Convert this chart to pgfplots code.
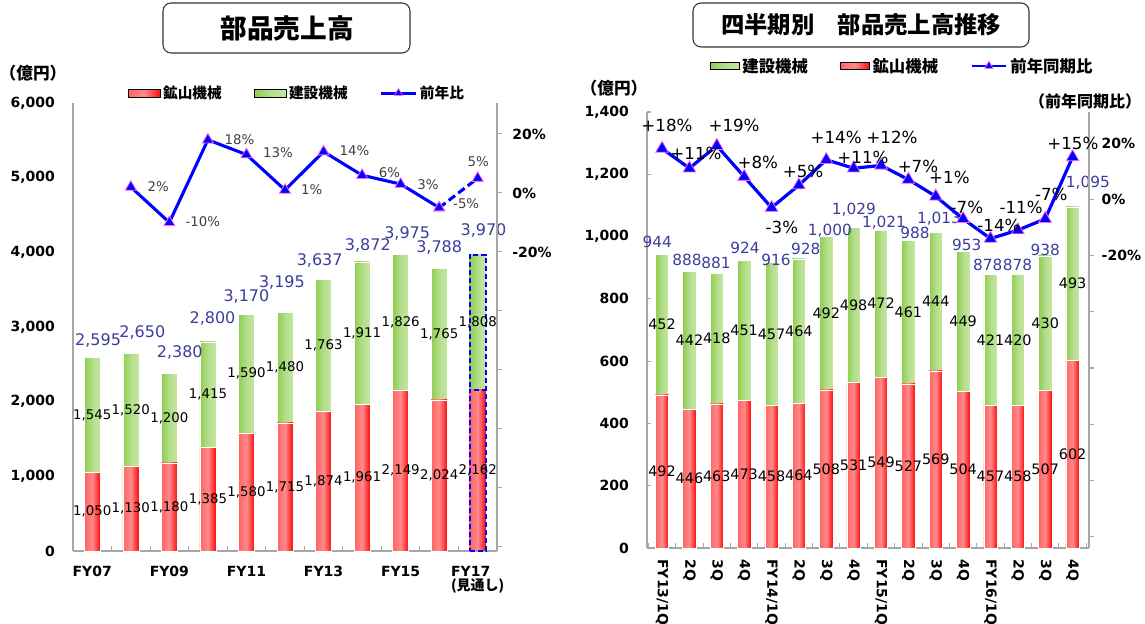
\documentclass[border=0pt]{standalone}
\usepackage{fontspec}
\setmainfont{DejaVu Sans}
\newfontfamily\jp{Noto Sans CJK JP}
\usepackage{pgfplots}
\usepackage{pgfplotstable}
\pgfplotsset{compat=1.18}
\newcommand\fs[1]{\fontsize{#1}{#1}\selectfont}
\definecolor{axgray}{HTML}{A6A6A6}
\definecolor{lineblue}{HTML}{0000FF}
\definecolor{mkpink}{HTML}{FF66FF}
\definecolor{totblue}{HTML}{3D3D9E}
\definecolor{labgray}{HTML}{404040}
\definecolor{gL}{HTML}{8FCD50}
\definecolor{gM}{HTML}{B3DE8A}
\definecolor{gR}{HTML}{C4E6A3}
\definecolor{rL}{HTML}{FF6464}
\definecolor{rM}{HTML}{FF8A8A}
\definecolor{rR}{HTML}{FF0A0A}

\pgfplotsset{
  /pgf/number format/assume math mode=true,
  /pgf/number format/1000 sep={,},
  barG/.style={ybar, bar shift=0pt, left color=gL, right color=gR, middle color=gM, draw=white, line width=0.4pt, forget plot},
  barR/.style={ybar, bar shift=0pt, left color=rL, right color=rR, middle color=rM, draw=white, line width=0.4pt, forget plot},
  lab/.style={draw=none, mark=none, forget plot, nodes near coords, point meta=explicit, nodes near coords style={anchor=center, inner sep=0pt}},
}

% ---------- annual data ----------
\pgfplotstableread{
x mine cons total
0 1050 1545 2595
1 1130 1520 2650
2 1180 1200 2380
3 1385 1415 2800
4 1580 1590 3170
5 1715 1480 3195
6 1874 1763 3637
7 1961 1911 3872
8 2149 1826 3975
9 2024 1765 3788
}\annual
\pgfplotstableread{
x mine cons total
10 2162 1808 3970
}\annualfc
\pgfplotstableread{
lx ly total
0.15 2823 2595
1.3 2931 2650
2.27 2661 2380
3.12 3108 2800
4.0 3411 3170
4.92 3597 3195
5.9 3892 3637
7.15 4086 3872
8.17 4256 3975
9.0 4069 3788
10.15 4292 3970
}\annualtot
\pgfplotstableread{
x pct lx ly
1 2 1.71 2.0
2 -10 2.87 -9.8
3 18 3.82 18.0
4 13 4.82 13.6
5 1 5.69 1.0
6 14 6.80 14.2
7 6 7.71 6.8
8 3 8.71 2.7
9 -5 9.70 -3.7
10 5 10.01 10.5
}\annualyoy

% ---------- quarterly data ----------
\pgfplotstableread{
x mine cons total yoy tx ty lx ly
0 492 452 944 18 -0.18 983 0.18 26.4
1 446 442 888 11 0.91 925 1.24 16.1
2 463 418 881 19 1.97 915 2.63 26.4
3 473 451 924 8 3.03 963 3.50 12.9
4 458 457 916 -3 4.16 925 4.38 -10.2
5 464 464 928 5 5.25 960 5.15 9.7
6 508 492 1000 14 6.13 1018 6.36 22.1
7 531 498 1029 11 7.01 1085 7.34 15.0
8 549 472 1021 12 8.11 1044 8.40 22.1
9 527 461 988 7 9.24 1012 9.35 11.8
10 569 444 1013 1 10.12 1057 10.50 7.8
11 504 449 953 -7 11.13 973 11.14 -2.8
12 457 421 878 -14 11.90 909 12.31 -9.5
13 458 420 878 -11 12.99 909 13.12 -2.8
14 507 430 938 -7 14.00 957 14.22 1.6
15 602 493 1095 15 15.56 1172 15.01 20.0
}\quarterly

\begin{document}
\begin{tikzpicture}[x=0.75pt,y=0.75pt]
\useasboundingbox (0,0) rectangle (1145,624);

%================ LEFT CHART: bars =================
\begin{axis}[
  at={(54.75pt,54.75pt)}, anchor=south west, scale only axis,
  width=318pt, height=336pt,
  xmin=-0.5, xmax=10.5, ymin=0, ymax=6000, clip=false,
  axis lines*=left, axis line style={-, draw=axgray, line width=0.9pt},
  xtick={0,2,...,10},
  xticklabels={FY07,FY09,FY11,FY13,FY15,{FY17\\\jp\bfseries(見通し)}},
  minor xtick={-0.5,0.5,...,10.5},
  ytick={0,1000,...,6000},
  tick align=inside, major tick length=0pt, minor tick length=4pt,
  tick style={axgray, line width=0.8pt},
  xticklabel style={font=\fs{10.5}\bfseries, align=left},
  xticklabel shift=8pt,
  yticklabel style={font=\fs{10.5}\bfseries},
  yticklabel shift=10pt,
  legend style={at={(axis description cs:0.529,1.022)}, anchor=center, draw=none, fill=none,
    legend columns=3, font=\jp\bfseries\fs{11},
    /tikz/every even column/.append style={column sep=22pt}},
]
\addlegendimage{legend image code/.code={\fill[left color=rL,right color=rR,middle color=rM] (0pt,-3pt) rectangle (24pt,3pt);}}
\addlegendentry{鉱山機械}
\addlegendimage{legend image code/.code={\fill[left color=gL,right color=gR,middle color=gM] (0pt,-3pt) rectangle (24pt,3pt);}}
\addlegendentry{建設機械}
\addlegendimage{legend image code/.code={\draw[lineblue, line width=2.2pt] (0pt,0pt)--(26pt,0pt); \draw[lineblue, mark=triangle*, mark size=3.6pt, mark options={fill=lineblue, draw=mkpink, line width=0.5pt}] plot coordinates {(13pt,0pt)};}}
\addlegendentry{前年比}

\pgfplotsinvokeforeach{0,...,9}{
  \addplot[barG, bar width=12pt, restrict x to domain=#1:#1] table[x=x, y=total]{\annual};
  \addplot[barR, bar width=12pt, restrict x to domain=#1:#1] table[x=x, y=mine]{\annual};
}
\addplot[barG, bar width=12pt, draw=blue, line width=1.6pt, dash pattern=on 4pt off 2pt] table[x=x, y=total]{\annualfc};
\addplot[barR, bar width=12pt, draw=blue, line width=1.6pt, dash pattern=on 4pt off 2pt] table[x=x, y=mine]{\annualfc};

\addplot[lab, nodes near coords style={font=\fs{10}}] table[x=x, y expr=\thisrow{mine}/2, meta=mine]{\annual};
\addplot[lab, nodes near coords style={font=\fs{10}}] table[x=x, y expr=(\thisrow{mine}+\thisrow{total})/2, meta=cons]{\annual};
\addplot[lab, nodes near coords style={font=\fs{10}}] table[x=x, y expr=\thisrow{mine}/2, meta=mine]{\annualfc};
\addplot[lab, nodes near coords style={font=\fs{10}}] table[x=x, y expr=(\thisrow{mine}+\thisrow{total})/2, meta=cons]{\annualfc};
\addplot[lab, nodes near coords style={font=\fs{12}, text=totblue}] table[x=lx, y=ly, meta=total]{\annualtot};
\end{axis}

%================ LEFT CHART: YoY line =================
\begin{axis}[
  at={(54.75pt,54.75pt)}, anchor=south west, scale only axis,
  width=318pt, height=336pt,
  xmin=-0.5, xmax=10.5, ymin=-121.4, ymax=30.5, clip=false,
  axis x line=none, axis y line*=right, axis line style={-, draw=axgray, line width=0.9pt},
  ytick={-120,-100,...,20}, yticklabels={,,,,,-20\%,0\%,20\%},
  tick align=outside, major tick length=4pt, tick style={axgray, line width=0.8pt},
  yticklabel style={font=\fs{10.5}\bfseries},
  yticklabel shift=4pt,
]
\addplot[lineblue, line width=2.3pt, mark=triangle*, mark size=4.8pt,
  mark options={fill=lineblue, draw=mkpink, line width=0.6pt, solid},
  restrict x to domain=1:9] table[x=x, y=pct]{\annualyoy};
\addplot[lineblue, line width=2.3pt, dash pattern=on 6pt off 3pt, mark=triangle*, mark size=4.8pt,
  mark options={fill=lineblue, draw=mkpink, line width=0.6pt, solid},
  restrict x to domain=9:10] table[x=x, y=pct]{\annualyoy};
\addplot[lab, nodes near coords={\pgfmathprintnumber{\pgfplotspointmeta}\%},
  nodes near coords style={font=\fs{10}, text=labgray}] table[x=lx, y=ly, meta=pct]{\annualyoy};
\end{axis}

%================ RIGHT CHART: bars =================
\begin{axis}[
  at={(485.25pt,57pt)}, anchor=south west, scale only axis,
  width=331.5pt, height=327pt,
  xmin=-0.55, xmax=15.6, ymin=0, ymax=1400, clip=false,
  axis lines*=left, axis line style={-, draw=axgray, line width=0.9pt},
  xtick={0,...,15},
  xticklabels={FY13/1Q,2Q,3Q,4Q,FY14/1Q,2Q,3Q,4Q,FY15/1Q,2Q,3Q,4Q,FY16/1Q,2Q,3Q,4Q},
  minor xtick={-0.5,0.5,...,15.5},
  ytick={0,200,...,1400},
  tick align=inside, major tick length=3pt, minor tick length=4pt,
  tick style={axgray, line width=0.8pt},
  every major x tick/.append style={draw=none},
  xticklabel style={font=\fs{10.5}\bfseries, rotate=-90, anchor=west},
  xticklabel shift=5pt,
  yticklabel style={font=\fs{10.5}\bfseries},
  yticklabel shift=10pt,
  legend style={at={(axis description cs:0.578,1.1055)}, anchor=center, draw=none, fill=none,
    legend columns=3, font=\jp\bfseries\fs{12.3},
    /tikz/every even column/.append style={column sep=22pt}},
]
\addlegendimage{legend image code/.code={\fill[left color=gL,right color=gR,middle color=gM] (0pt,-2.5pt) rectangle (22pt,2.5pt);}}
\addlegendentry{建設機械}
\addlegendimage{legend image code/.code={\fill[left color=rL,right color=rR,middle color=rM] (0pt,-2.5pt) rectangle (22pt,2.5pt);}}
\addlegendentry{鉱山機械}
\addlegendimage{legend image code/.code={\draw[lineblue, line width=2.2pt] (0pt,0pt)--(26pt,0pt); \draw[lineblue, mark=triangle*, mark size=3.6pt, mark options={fill=lineblue, draw=mkpink, line width=0.5pt}] plot coordinates {(13pt,0pt)};}}
\addlegendentry{前年同期比}

\pgfplotsinvokeforeach{0,...,15}{
  \addplot[barG, bar width=10pt, restrict x to domain=#1:#1] table[x=x, y=total]{\quarterly};
  \addplot[barR, bar width=10pt, restrict x to domain=#1:#1] table[x=x, y=mine]{\quarterly};
}
\addplot[lab, nodes near coords style={font=\fs{10.8}}] table[x=x, y expr=\thisrow{mine}/2, meta=mine]{\quarterly};
\addplot[lab, nodes near coords style={font=\fs{10.8}}] table[x=x, y expr=(\thisrow{mine}+\thisrow{total})/2, meta=cons]{\quarterly};
\addplot[lab, nodes near coords style={font=\fs{11.5}, text=totblue}] table[x=tx, y=ty, meta=total]{\quarterly};
\end{axis}

%================ RIGHT CHART: YoY line =================
\begin{axis}[
  at={(485.25pt,57pt)}, anchor=south west, scale only axis,
  width=331.5pt, height=327pt,
  xmin=-0.55, xmax=15.6, ymin=-124, ymax=31, clip=false,
  axis x line=none, axis y line*=right, axis line style={-, draw=axgray, line width=0.9pt},
  ytick={-120,-100,...,20}, yticklabels={,,,,,-20\%,0\%,20\%},
  tick align=outside, major tick length=4pt, tick style={axgray, line width=0.8pt},
  yticklabel style={font=\fs{10.5}\bfseries},
  yticklabel shift=2pt,
]
\addplot[lineblue, line width=2.4pt, mark=triangle*, mark size=5.5pt,
  mark options={fill=lineblue, draw=mkpink, line width=0.6pt}] table[x=x, y=yoy]{\quarterly};
\addplot[lab, nodes near coords={\pgfmathprintnumber[showpos]{\pgfplotspointmeta}\%},
  nodes near coords style={font=\fs{12.5}}] table[x=lx, y=ly, meta=yoy]{\quarterly};
\end{axis}

%================ titles and unit labels =================
\draw[draw=black!80, line width=0.8pt, rounded corners=6pt] (163,571) rectangle (410,621);
\node[font=\jp\bfseries\fs{20}] at (287,596) {部品売上高};
\draw[draw=black!80, line width=0.8pt, rounded corners=6pt] (693,577) rectangle (1029,621);
\node[font=\jp\bfseries\fs{17.5}] at (861,599) {四半期別　部品売上高推移};
\node[font=\jp\bfseries\fs{12.5}] at (33,551) {（億円）};
\node[font=\jp\bfseries\fs{12.5}] at (614,536) {（億円）};
\node[font=\jp\bfseries\fs{12}] at (1085,523) {（前年同期比）};
\end{tikzpicture}
\end{document}
